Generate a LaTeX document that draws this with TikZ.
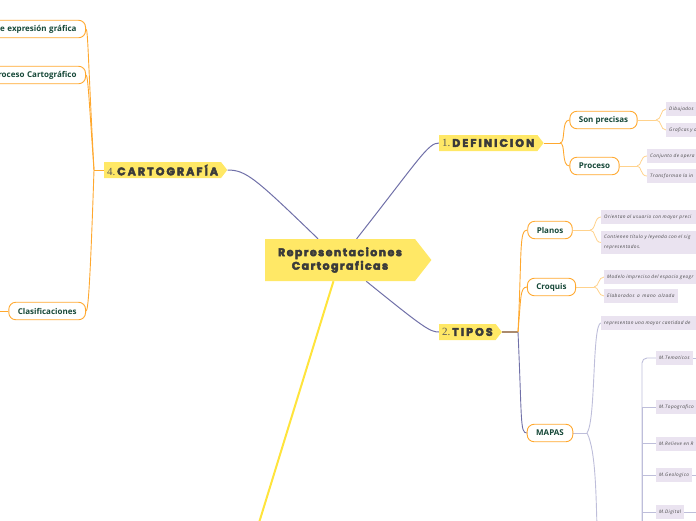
\documentclass[tikz,border=0pt]{standalone}
\usepackage{fontspec}
\setmainfont{Open Sans}
\newfontfamily\tagfont[LetterSpace=19, FakeBold=4]{Poppins}
\newfontfamily\hubfont[LetterSpace=13, FakeBold=4]{Poppins}
\newfontfamily\notefont[LetterSpace=9, WordSpace=1.6]{Open Sans}
\newfontfamily\numfont{Liberation Serif}
\usetikzlibrary{shapes.symbols, positioning, calc, backgrounds}
\definecolor{tagyellow}{RGB}{255, 232, 102}
\definecolor{tagtext}{RGB}{58, 58, 58}
\definecolor{numgray}{RGB}{90, 90, 90}
\definecolor{orange1}{RGB}{255, 168, 46}
\definecolor{orange2}{RGB}{255, 210, 140}
\definecolor{green1}{RGB}{22, 72, 56}
\definecolor{purple1}{RGB}{112, 112, 168}
\definecolor{purple2}{RGB}{190, 190, 218}
\definecolor{brown1}{RGB}{170, 138, 110}
\definecolor{yellow1}{RGB}{255, 228, 60}
\definecolor{lav1}{RGB}{234, 227, 240}
\definecolor{notegray}{RGB}{70, 70, 70}

\begin{document}
\begin{tikzpicture}[x=1pt, y=-1pt,
  tag/.style={signal, signal to=east, signal pointer angle=104, fill=tagyellow, text=tagtext,
    font=\tagfont\bfseries\fontsize{11}{12}\selectfont, inner xsep=3pt, inner ysep=1pt, minimum height=16pt},
  topic/.style={draw=orange1, line width=0.9pt, fill=white, rounded corners=7pt, text=green1,
    font=\bfseries\fontsize{8}{9}\selectfont, minimum height=17.5pt, inner xsep=9pt},
  note/.style={fill=lav1, text=notegray, font=\notefont\itshape\fontsize{4.7}{9.5}\selectfont,
    anchor=west, align=left, inner xsep=3pt, inner ysep=2pt, minimum height=14pt},
  notecut/.style={note, text width=120pt},
  num/.style={font=\numfont\mdseries\fontsize{10}{11}\selectfont, text=numgray}]

  \useasboundingbox (0,0) rectangle (696,520);
  \clip (0,0) rectangle (696,520);

  % main topic
  \node[tag, text width=140pt, align=center, inner xsep=5pt, minimum height=42pt,
    font=\hubfont\bfseries\fontsize{11}{13.5}\selectfont] (center) at (340,260)
    {Representaciones\\Cartograficas};

  \node[tag, anchor=west] (def) at (439,143) {{\numfont\mdseries\color{numgray}1.}\,DEFINICION};
  \node[tag, anchor=west] (tipos) at (439,332) {{\numfont\mdseries\color{numgray}2.}\,TIPOS};
  \node[tag, anchor=west] (cart) at (104,170) {{\numfont\mdseries\color{numgray}4.}\,CARTOGRAFÍA};

  \node[topic, anchor=east, text width=120pt, align=right] (expr) at (86,29) {de expresión gráfica};
  \node[topic, anchor=east, text width=120pt, align=right] (proc4) at (86,75) {Proceso Cartográfico};
  \node[topic, anchor=east] (clas) at (86,311) {Clasificaciones};

  \node[topic] (sonp) at (603.5,120) {Son precisas};
  \node[topic] (procd) at (594.5,166) {Proceso};
  \node[topic] (planos) at (550,230) {Planos};
  \node[topic] (croquis) at (551.5,287) {Croquis};
  \node[topic] (mapas) at (550,433) {MAPAS};

  \node[notecut] (dib) at (666,109) {Dibujados};
  \node[notecut] (graf) at (666,130) {Graficas y a};
  \node[notecut] (conj) at (647,156) {Conjunto de opera};
  \node[notecut] (trans) at (647,176) {Transforman la in};
  \node[notecut] (orient) at (601,217) {Orientan al usuario con mayor preci};
  \node[notecut, minimum height=23pt] (conti) at (601,242.5) {Contienen título y leyenda con el sig\\representados.};
  \node[notecut] (model) at (604,277) {Modelo impreciso del espacio geogr};
  \node[note] (elab) at (604,296) {Elaborados a mano alzada};
  \node[notecut] (repres) at (601,323) {representan una mayor cantidad de};
  \node[note] (mtem) at (656,358) {M.Tematicos};
  \node[note] (mtop) at (656,407) {M.Topografico};
  \node[notecut] (mrel) at (656,443.5) {M.Relieve en R};
  \node[note] (mgeo) at (656,475) {M.Geologico};
  \node[note] (mdig) at (656,512) {M.Digital};

  \coordinate (off3) at (258,526);
  \coordinate (off4) at (-6,311);
  \coordinate (j4) at (94,170);
  \coordinate (jd) at (560,143);
  \coordinate (js) at (656,120);
  \coordinate (jp) at (637,166);
  \coordinate (jt) at (518,332);
  \coordinate (jpl) at (590,230);
  \coordinate (jcr) at (594,287);
  \coordinate (jm) at (587,433);
  \coordinate (off2) at (597,526);
  \coordinate (jg) at (642,530);
  \coordinate (offtem) at (702,358);
  \coordinate (offgeo) at (702,475);
  \coordinate (offdig) at (702,512);

  \begin{scope}[on background layer]
    \draw[yellow1, line width=2pt] (center) -- (off3);
    \draw[purple1, line width=1pt] (center) .. controls (420,158) and (428,143) .. (def.west);
    \draw[purple1, line width=1pt] (center) .. controls (255,178) and (246,170) .. (cart.east);
    \draw[purple1, line width=1pt] (center) .. controls (424,328) and (430,332) .. (tipos.west);

    \draw[orange1, line width=0.9pt] (cart.west) -- (j4);
    \draw[orange1, line width=0.9pt] (j4) .. controls (88,60) and (88,29) .. (expr.east);
    \draw[orange1, line width=0.9pt] (j4) .. controls (89,100) and (88,75) .. (proc4.east);
    \draw[orange1, line width=0.9pt] (j4) .. controls (90,290) and (88,311) .. (clas.east);
    \draw[orange1, line width=0.9pt] (clas.west) -- (off4);

    \draw[orange1, line width=0.9pt] (def.east) -- (jd);
    \draw[orange1, line width=0.9pt] (jd) .. controls (566,143) and (561,120) .. (sonp.west);
    \draw[orange1, line width=0.9pt] (jd) .. controls (566,143) and (561,166) .. (procd.west);
    \draw[orange2, line width=0.8pt] (sonp.east) -- (js);
    \draw[orange2, line width=0.8pt] (js) .. controls (662,120) and (660,109) .. (dib.west);
    \draw[orange2, line width=0.8pt] (js) .. controls (662,120) and (660,130) .. (graf.west);
    \draw[orange2, line width=0.8pt] (procd.east) -- (jp);
    \draw[orange2, line width=0.8pt] (jp) .. controls (642,166) and (640,156) .. (conj.west);
    \draw[orange2, line width=0.8pt] (jp) .. controls (642,166) and (640,176) .. (trans.west);

    \draw[brown1, line width=1.2pt] (tipos.east) -- (jt);
    \draw[orange1, line width=0.9pt] (jt) .. controls (522,250) and (519,230) .. (planos.west);
    \draw[orange1, line width=0.9pt] (jt) .. controls (521,298) and (520,287) .. (croquis.west);
    \draw[purple1, line width=0.9pt] (jt) .. controls (522,420) and (520,433) .. (mapas.west);
    \draw[orange2, line width=0.8pt] (planos.east) -- (jpl);
    \draw[orange2, line width=0.8pt] (jpl) .. controls (596,230) and (594,217) .. (orient.west);
    \draw[orange2, line width=0.8pt] (jpl) .. controls (596,230) and (594,242.5) .. (conti.west);
    \draw[orange2, line width=0.8pt] (croquis.east) -- (jcr);
    \draw[orange2, line width=0.8pt] (jcr) .. controls (599,287) and (598,277) .. (model.west);
    \draw[orange2, line width=0.8pt] (jcr) .. controls (599,287) and (598,296) .. (elab.west);
    \draw[purple2, line width=0.9pt] (mapas.east) -- (jm);
    \draw[purple2, line width=0.9pt] (jm) .. controls (596,420) and (592,323) .. (repres.west);
    \draw[purple2, line width=0.9pt] (jm) .. controls (596,450) and (596,500) .. (off2);

    \draw[purple2, line width=0.9pt, rounded corners=5pt] (jg) |- (mtem.west);
    \foreach \m in {mtop, mrel, mgeo, mdig}
      \draw[purple2, line width=0.9pt] (jg) |- (\m.west);
    \draw[purple2, line width=0.9pt] (mtem.east) -- (offtem);
    \draw[purple2, line width=0.9pt] (mgeo.east) -- (offgeo);
    \draw[purple2, line width=0.9pt] (mdig.east) -- (offdig);
  \end{scope}
\end{tikzpicture}
\end{document}
